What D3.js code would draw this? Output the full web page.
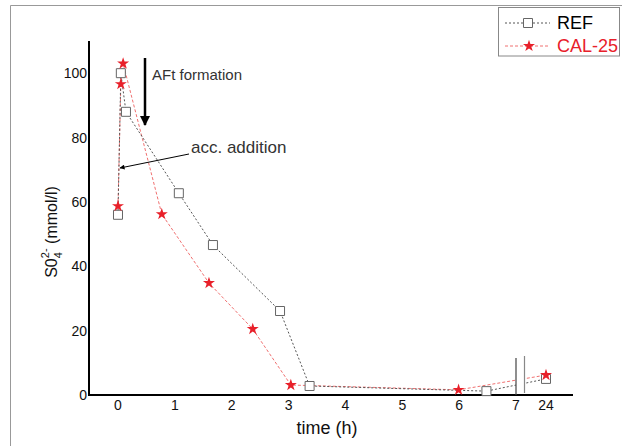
<!DOCTYPE html>
<html>
<head>
<meta charset="utf-8">
<script src="https://cdn.jsdelivr.net/npm/d3@7"></script>
<style>
body { margin: 0; background: #fff; }
text { font-family: "Liberation Sans", Arial, sans-serif; }
</style>
</head>
<body>
<svg id="chart" width="622" height="446"></svg>
<script>
// time (h) and sulfate (mmol/l)
var refTime = [0, 0.05, 0.14, 1.07, 1.67, 2.85, 3.37, 6.48, 24];
var refVal  = [56, 100, 88, 62.7, 46.6, 26.1, 2.8, 1.2, 5];
var calTime = [0, 0.05, 0.09, 0.77, 1.6, 2.37, 3.04, 5.99, 24];
var calVal  = [58.7, 96.6, 103, 56.2, 34.8, 20.5, 3.1, 1.6, 6.2];
var xTicks = [0, 1, 2, 3, 4, 5, 6, 7, 24];
var yTicks = [0, 20, 40, 60, 80, 100];

var svg = d3.select("#chart");

// broken x axis: 0..7 linear, then 7..24 squeezed
var x = d3.scaleLinear().domain([-0.51, 7, 24, 39]).range([89, 516, 546, 573]);
var y = d3.scaleLinear().domain([0, 110]).range([395, 41]);

// outer frame
svg.append("path").attr("d", "M10.5,446V5.5H622")
  .attr("fill", "none").attr("stroke", "#999").attr("stroke-width", 1);

// gap for the axis break
var clip = svg.append("defs").append("clipPath").attr("id", "gap");
clip.append("rect").attr("x", 0).attr("y", 0).attr("width", 516).attr("height", 446);
clip.append("rect").attr("x", 525).attr("y", 0).attr("width", 100).attr("height", 446);

var line = d3.line().x(function(d){ return x(d[0]); }).y(function(d){ return y(d[1]); });
var ref = d3.zip(refTime, refVal);
var cal = d3.zip(calTime, calVal);

var lines = svg.append("g").attr("clip-path", "url(#gap)");
lines.append("path").datum(cal).attr("d", line)
  .attr("fill", "none").attr("stroke", "#f07070").attr("stroke-width", 1)
  .attr("stroke-dasharray", "3,2");
lines.append("path").datum(ref).attr("d", line)
  .attr("fill", "none").attr("stroke", "#555").attr("stroke-width", 1)
  .attr("stroke-dasharray", "2,2");

// axes
svg.append("line").attr("x1", 89).attr("x2", 89).attr("y1", 41).attr("y2", 396)
  .attr("stroke", "#000").attr("stroke-width", 2);
svg.append("line").attr("x1", 88).attr("x2", 573).attr("y1", 395).attr("y2", 395)
  .attr("stroke", "#000").attr("stroke-width", 2);

// break marks
svg.append("line").attr("x1", x(7)).attr("x2", x(7)).attr("y1", 358).attr("y2", 395)
  .attr("stroke", "#444").attr("stroke-width", 1.2);
svg.append("line").attr("x1", 524.5).attr("x2", 524.5).attr("y1", 356).attr("y2", 393)
  .attr("stroke", "#888").attr("stroke-width", 1.2);

svg.append("g").selectAll("text").data(xTicks).enter().append("text")
  .attr("x", function(d){ return x(d); }).attr("y", 405)
  .attr("text-anchor", "middle").attr("dominant-baseline", "central")
  .attr("font-size", 14).attr("fill", "#111")
  .text(function(d){ return d; });

svg.append("g").selectAll("text").data(yTicks).enter().append("text")
  .attr("x", 87).attr("y", function(d){ return y(d); })
  .attr("text-anchor", "end").attr("dominant-baseline", "central")
  .attr("font-size", 14).attr("fill", "#111")
  .text(function(d){ return d; });

// axis titles
svg.append("text").attr("x", 327).attr("y", 428)
  .attr("text-anchor", "middle").attr("dominant-baseline", "central")
  .attr("font-size", 18).attr("fill", "#111").text("time (h)");

var yl = svg.append("text").attr("transform", "translate(57,232) rotate(-90)")
  .attr("text-anchor", "middle").attr("font-size", 16).attr("fill", "#111");
yl.append("tspan").text("S0");
yl.append("tspan").attr("font-size", 11).attr("dy", 5).text("4");
yl.append("tspan").attr("font-size", 11).attr("dx", -6).attr("dy", -13).text("2-");
yl.append("tspan").attr("dy", 8).text(" (mmol/l)");

// markers
var sq = d3.symbol().type(d3.symbolSquare).size(81);
var star = d3.symbol().type(d3.symbolStar).size(45);

svg.append("g").selectAll("path").data(ref).enter().append("path")
  .attr("d", sq).attr("transform", function(d){ return "translate(" + x(d[0]) + "," + y(d[1]) + ")"; })
  .attr("fill", "#fff").attr("stroke", "#666").attr("stroke-width", 1);
svg.append("g").selectAll("path").data(cal).enter().append("path")
  .attr("d", star).attr("transform", function(d){ return "translate(" + x(d[0]) + "," + y(d[1]) + ")"; })
  .attr("fill", "#e8202a");

// annotations
var defs = svg.select("defs");
defs.append("marker").attr("id", "headBig").attr("viewBox", "0 0 10 10")
  .attr("refX", 9).attr("refY", 5).attr("markerWidth", 4).attr("markerHeight", 6)
  .attr("orient", "auto").attr("markerUnits", "strokeWidth")
  .append("path").attr("d", "M0,0L10,5L0,10z").attr("fill", "#000");
defs.append("marker").attr("id", "headSmall").attr("viewBox", "0 0 10 10")
  .attr("refX", 9).attr("refY", 5).attr("markerWidth", 8).attr("markerHeight", 5)
  .attr("orient", "auto").attr("markerUnits", "strokeWidth")
  .append("path").attr("d", "M0,0L10,5L0,10z").attr("fill", "#000");

svg.append("line").attr("x1", 145).attr("x2", 145).attr("y1", 58).attr("y2", 125)
  .attr("stroke", "#000").attr("stroke-width", 2.5).attr("marker-end", "url(#headBig)");
svg.append("text").attr("x", 152).attr("y", 74).attr("dominant-baseline", "central")
  .attr("font-size", 15).attr("fill", "#333").text("AFt formation");

svg.append("line").attr("x1", 189).attr("x2", 120).attr("y1", 154).attr("y2", 168)
  .attr("stroke", "#000").attr("stroke-width", 1).attr("marker-end", "url(#headSmall)");
svg.append("text").attr("x", 191).attr("y", 147).attr("dominant-baseline", "central")
  .attr("font-size", 17).attr("fill", "#333").text("acc. addition");

// legend
var lg = svg.append("g");
lg.append("rect").attr("x", 498.5).attr("y", 7.5).attr("width", 121).attr("height", 48.5)
  .attr("fill", "#fff").attr("stroke", "#888");
lg.append("line").attr("x1", 505).attr("x2", 550).attr("y1", 23).attr("y2", 23)
  .attr("stroke", "#555").attr("stroke-dasharray", "2,2");
lg.append("path").attr("d", sq).attr("transform", "translate(528,23)")
  .attr("fill", "#fff").attr("stroke", "#666");
lg.append("text").attr("x", 557).attr("y", 23).attr("dominant-baseline", "central")
  .attr("font-size", 18).attr("fill", "#000").text("REF");
lg.append("line").attr("x1", 505).attr("x2", 550).attr("y1", 46).attr("y2", 46)
  .attr("stroke", "#f07070").attr("stroke-dasharray", "3,2");
lg.append("path").attr("d", star).attr("transform", "translate(529,46)")
  .attr("fill", "#e8202a");
lg.append("text").attr("x", 557).attr("y", 46).attr("dominant-baseline", "central")
  .attr("font-size", 18).attr("fill", "#e8202a").text("CAL-25");
</script>
</body>
</html>
